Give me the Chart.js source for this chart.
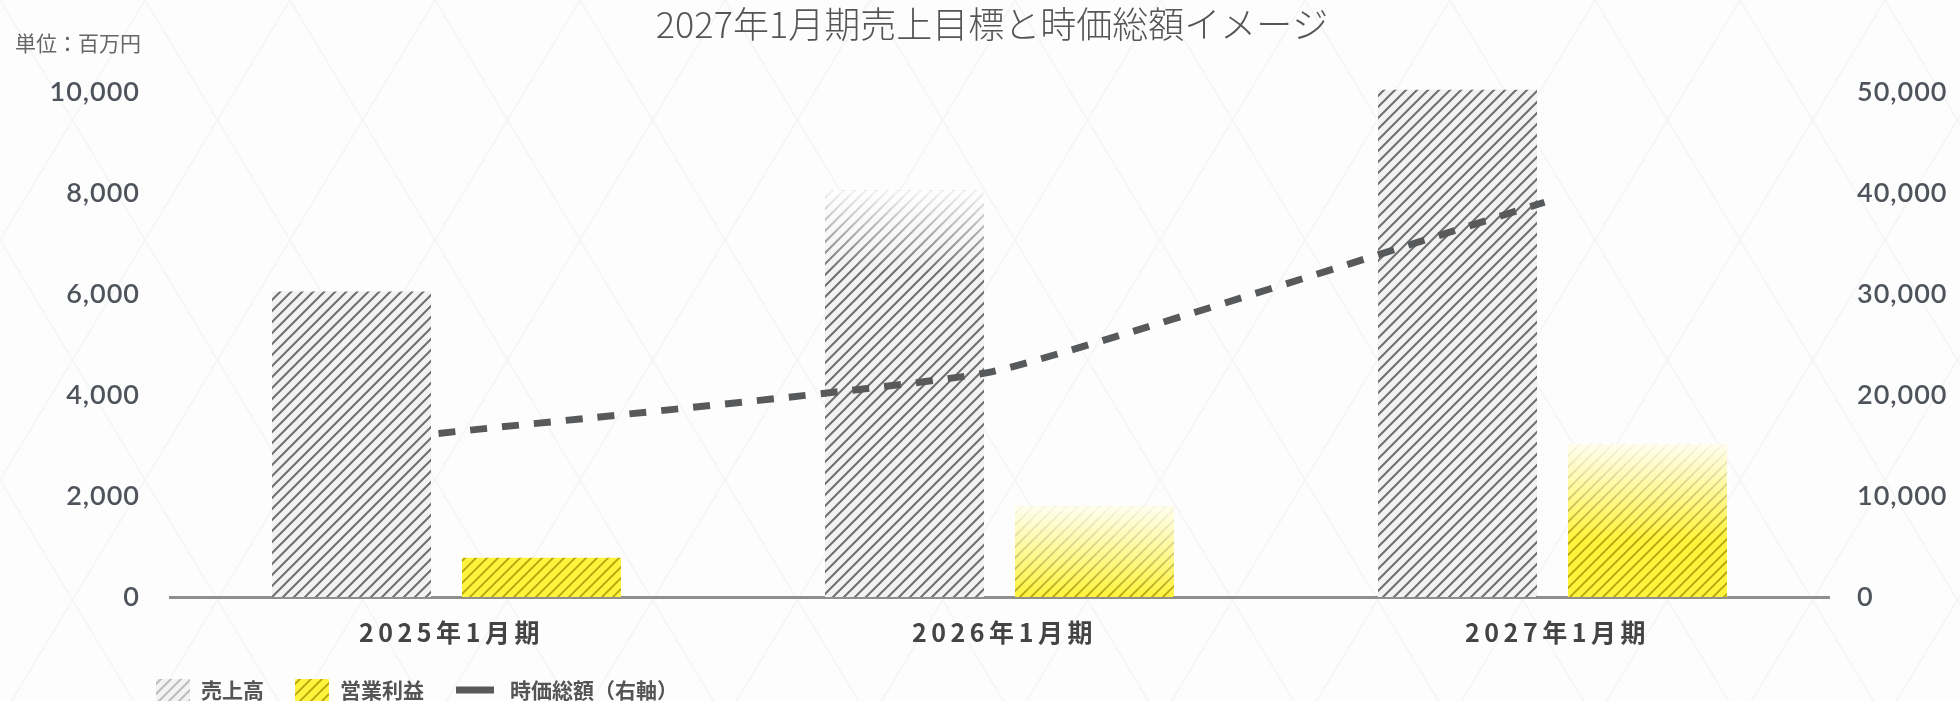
<!DOCTYPE html>
<html lang="ja">
<head>
<meta charset="utf-8">
<title>2027年1月期売上目標と時価総額イメージ</title>
<script src="https://cdn.jsdelivr.net/npm/chart.js@4.4.1/dist/chart.umd.min.js"></script>
<style>
  html, body { margin: 0; padding: 0; }
  body {
    width: 1960px;
    height: 701px;
    overflow: hidden;
    background-color: #fdfdfd;
    background-image: url("data:image/svg+xml,%3Csvg xmlns='http://www.w3.org/2000/svg' width='145' height='240'%3E%3Cpath d='M0 0L145 240M145 0L0 240' stroke='%23f6f6f6' stroke-width='2' fill='none'/%3E%3C/svg%3E");
  }
  .wrap { position: relative; width: 1960px; height: 701px; }
  canvas { display: block; }
</style>
</head>
<body>
<div class="wrap"><canvas id="chart" width="1960" height="701"></canvas></div>
<script>
var ctx = document.getElementById('chart').getContext('2d');

/* 売上・利益・時価総額（単位：百万円） */
const periods = ['2025年1月期', '2026年1月期', '2027年1月期'];
const sales = [6050, 8050, 10050];
const profit = [780, 1800, 3030];
const marketCap = [16200, 22300, 39100];

const leftAxis = { max: 10000, step: 2000 };
const rightAxis = { max: 50000, step: 10000 };

const tickColor = '#4f545c';
const lineColor = '#58595b';

// 斜線のパターン
function stripes(bg, line, step, lw) {
    const c = document.createElement('canvas');
    c.width = step;
    c.height = step;
    const g = c.getContext('2d');
    g.fillStyle = bg;
    g.fillRect(0, 0, step, step);
    g.strokeStyle = line;
    g.lineWidth = lw;
    g.beginPath();
    for (let k = -1; k <= 1; k++) {
        g.moveTo(k * step - 1, step + 1);
        g.lineTo(k * step + step + 1, -1);
    }
    g.stroke();
    return ctx.createPattern(c, 'repeat');
}

const grayHatch = stripes('#f2f2f2', '#6f6f6f', 11, 2);
const yellowHatch = stripes('#fff33e', '#b3a50a', 11, 1.8);
const grayHatchLight = stripes('#f3f3f3', '#bdbdbd', 10, 2);

// 目盛りラベルを字間をあけて描く軸
function spacedScale(Base, id, spacing, shiftX) {
    class Spaced extends Base {
        drawLabels(area) {
            this.ctx.save();
            this.ctx.letterSpacing = spacing + 'px';
            this.ctx.translate(shiftX, 0);
            super.drawLabels(area);
            this.ctx.restore();
        }
    }
    Spaced.id = id;
    Spaced.defaults = Base.defaults;
    return Spaced;
}
Chart.register(
    spacedScale(Chart.CategoryScale, 'spacedCategory', 4.5, 5),
    spacedScale(Chart.LinearScale, 'spacedLinear', 1, 0)
);

// 見込みの棒は上側を白くぼかす／折れ線は少し左に寄せる
const barFade = {
    id: 'barFade',
    beforeDatasetDraw(chart, args) {
        const ds = chart.data.datasets[args.index];
        if (ds.shiftX) {
            chart.ctx.save();
            chart.ctx.translate(ds.shiftX, 0);
        }
    },
    afterDatasetDraw(chart, args) {
        const ds = chart.data.datasets[args.index];
        if (ds.shiftX) chart.ctx.restore();
        if (!ds.fadeTop) return;
        const g = chart.ctx;
        args.meta.data.forEach((bar, i) => {
            const len = ds.fadeTop[i];
            if (!len) return;
            const p = bar.getProps(['x', 'y', 'width', 'base'], true);
            const h = Math.min(len, p.base - p.y);
            const grad = g.createLinearGradient(0, p.y, 0, p.y + h);
            grad.addColorStop(0, 'rgba(255,255,255,0.92)');
            grad.addColorStop(1, 'rgba(255,255,255,0)');
            g.save();
            g.fillStyle = grad;
            g.fillRect(p.x - p.width / 2, p.y, p.width, h);
            g.restore();
        });
    }
};

// 単位と凡例
const extras = {
    id: 'extras',
    afterDraw(chart) {
        const g = chart.ctx;
        g.save();
        g.textBaseline = 'middle';
        g.fillStyle = '#666';
        g.font = "21px 'Noto Sans CJK JP'";
        g.fillText('単位：百万円', 15, 43);

        const y = 690;
        const items = [
            { x: 156, fill: grayHatchLight, text: '売上高' },
            { x: 295, fill: yellowHatch, text: '営業利益' },
            { x: 456, line: true, text: '時価総額（右軸）' }
        ];
        g.font = "bold 21px 'Noto Sans CJK JP'";
        items.forEach(it => {
            if (it.line) {
                g.fillStyle = lineColor;
                g.fillRect(it.x, y - 3.5, 38, 7);
            } else {
                g.fillStyle = it.fill;
                g.fillRect(it.x, y - 11, 34, 22);
            }
            g.fillStyle = '#555';
            g.fillText(it.text, it.x + (it.line ? 54 : 45), y);
        });
        g.restore();
    }
};

const tickFont = { family: 'Lato', size: 27, weight: 600 };
const fmt = v => v.toLocaleString('en-US');

var myChart = new Chart(ctx, {
    data: {
        labels: periods,
        datasets: [{
            type: 'line',
            label: '時価総額（右軸）',
            data: marketCap,
            yAxisID: 'y1',
            borderColor: lineColor,
            borderWidth: 7,
            borderDash: [17, 15],
            borderCapStyle: 'butt',
            pointRadius: 0,
            tension: 0.12,
            shiftX: -8,
            order: 0
        }, {
            type: 'bar',
            label: '売上高',
            data: sales,
            yAxisID: 'y',
            backgroundColor: grayHatch,
            fadeTop: [0, 80, 0],
            categoryPercentage: 0.687,
            barPercentage: 0.837,
            clip: false,
            order: 1
        }, {
            type: 'bar',
            label: '営業利益',
            data: profit,
            yAxisID: 'y',
            backgroundColor: yellowHatch,
            fadeTop: [0, 95, 95],
            categoryPercentage: 0.687,
            barPercentage: 0.837,
            order: 1
        }]
    },
    options: {
        responsive: false,
        animation: false,
        layout: { padding: { left: 24 } },
        plugins: {
            legend: { display: false },
            tooltip: { enabled: false },
            title: {
                display: true,
                text: '2027年1月期売上目標と時価総額イメージ',
                color: '#555',
                font: { family: "'Noto Sans CJK JP'", size: 36, weight: 300, lineHeight: 1.2 },
                padding: { top: 3, bottom: 46 }
            }
        },
        scales: {
            x: {
                type: 'spacedCategory',
                grid: { display: false, drawTicks: false },
                border: { display: true, color: '#8f8f8f', width: 3 },
                ticks: {
                    color: '#444',
                    padding: 20,
                    font: { family: "'Noto Sans CJK JP'", size: 25, weight: 'bold' }
                },
                afterFit: s => { s.height = 104; }
            },
            y: {
                type: 'spacedLinear',
                position: 'left',
                min: 0,
                max: leftAxis.max,
                grid: { display: false, drawTicks: false },
                border: { display: false },
                ticks: { stepSize: leftAxis.step, color: tickColor, padding: 30, font: tickFont, callback: fmt },
                afterFit: s => { s.width = 146; }
            },
            y1: {
                type: 'spacedLinear',
                position: 'right',
                min: 0,
                max: rightAxis.max,
                grid: { display: false, drawTicks: false },
                border: { display: false },
                ticks: { stepSize: rightAxis.step, color: tickColor, padding: 28, font: tickFont, callback: fmt },
                afterFit: s => { s.width = 131; }
            }
        }
    },
    plugins: [barFade, extras]
});
</script>
</body>
</html>
